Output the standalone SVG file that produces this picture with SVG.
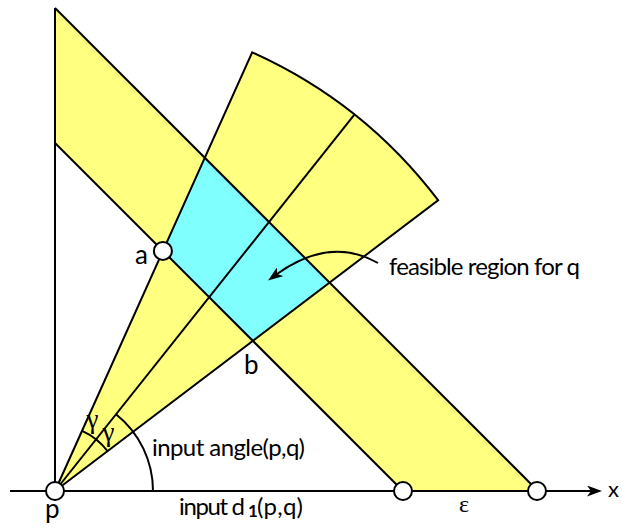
<svg xmlns="http://www.w3.org/2000/svg" width="622" height="530" viewBox="0 0 622 530">
<style>
.ln{fill:none;stroke:#000;stroke-width:2}
.yel{fill:#FFFF80;stroke:none}
.cy{fill:#80FFFF;stroke:none}
.pt{fill:#fff;stroke:#000;stroke-width:2}
.t{font-family:Lato,"Liberation Sans",sans-serif;font-size:24px;fill:#000}
.lbl{font-family:Lato,"Liberation Sans",sans-serif;font-size:26px;fill:#000}
.gr{font-family:"Liberation Serif","DejaVu Serif",serif;font-size:24px;fill:#000}
</style>
<defs>
<marker id="ah" viewBox="0 0 15 11" refX="4" refY="5.5" markerWidth="15" markerHeight="11" markerUnits="userSpaceOnUse" orient="auto">
<path d="M0,0 L15,5.5 L0,11 L4,5.5 Z" fill="#000"/>
</marker>
</defs>
<g id="band">
<polygon class="yel" points="55,8 538,491 403,491 55,143"/>
</g>
<g id="wedge">
<path class="yel" d="M55,491 L252.2,52.3 A481,481 0 0 1 438.1,200.2 Z"/>
</g>
<g id="feasible-region">
<polygon class="cy" points="162.9,250.9 204.8,157.7 329.6,282.6 252.8,340.8"/>
</g>
<g id="connectors">
<line class="ln" x1="55" y1="8" x2="55" y2="491"/>
<line class="ln" x1="10" y1="491" x2="591" y2="491" marker-end="url(#ah)"/>
<line class="ln" x1="55" y1="8" x2="538" y2="491"/>
<line class="ln" x1="55" y1="143" x2="403" y2="491"/>
<path class="ln" d="M55,491 L252.2,52.3 A481,481 0 0 1 438.1,200.2 Z"/>
<line class="ln" x1="55" y1="491" x2="354.4" y2="114.6"/>
<path class="ln" d="M82.05,430.8 A66,66 0 0 1 107.57,451.1"/>
<path class="ln" d="M116,414.3 A98,98 0 0 1 153,491"/>
<path class="ln" d="M378,263 Q330,236 277,274" marker-end="url(#ah)"/>
</g>
<g id="node-p">
<circle class="pt" cx="55" cy="491" r="9"/>
<text class="lbl" x="45" y="518">p</text>
</g>
<g id="node-a">
<circle class="pt" cx="162.9" cy="250.9" r="9"/>
<text class="lbl" x="135" y="264">a</text>
</g>
<g id="node-b">
<text class="lbl" x="244" y="374">b</text>
</g>
<g id="node-d1">
<circle class="pt" cx="403" cy="491" r="9"/>
</g>
<g id="node-eps">
<circle class="pt" cx="537" cy="491" r="9"/>
</g>
<g id="labels">
<text class="t" x="389" y="275" textLength="191">feasible region for q</text>
<text class="t" x="152" y="456" textLength="153">input angle(p,q)</text>
<text class="t" x="179" y="515" textLength="66">input d</text>
<text class="t" x="248" y="517" style="font-size:17px;font-weight:bold">1</text>
<text class="t" x="257" y="515" textLength="46">(p,q)</text>
<text class="t" x="608" y="497" style="font-size:22px">x</text>
<text class="gr" x="459" y="512">ε</text>
<text class="gr" x="92.5" y="428" text-anchor="middle" style="font-size:27px">γ</text>
<text class="gr" x="108.5" y="441" text-anchor="middle" style="font-size:27px">γ</text>
</g>
</svg>
